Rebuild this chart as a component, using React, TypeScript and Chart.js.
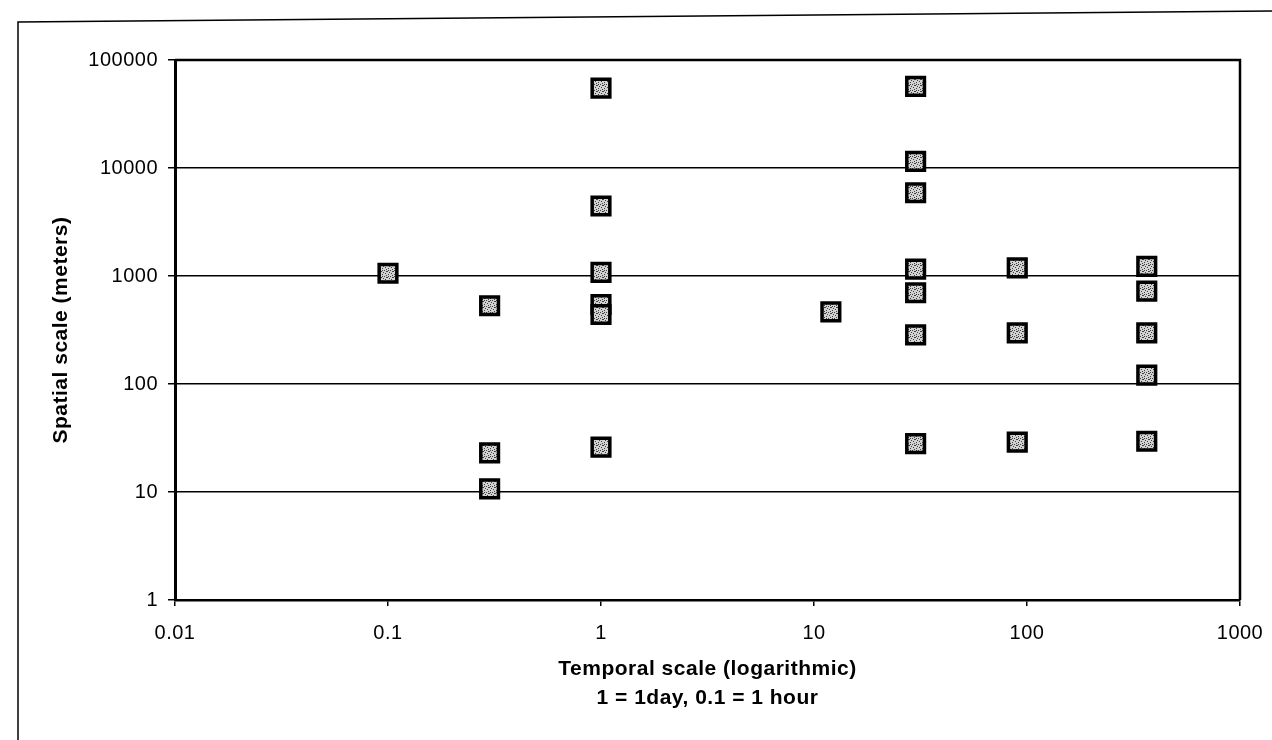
import React, { useEffect, useRef } from "react";
import { Chart, registerables } from "chart.js";

Chart.register(...registerables);

// Temporal scale (days) and spatial scale (meters) of each study
const temporalScale = [
  0.1,
  0.3, 0.3, 0.3,
  1, 1, 1, 1, 1, 1,
  12,
  30, 30, 30, 30, 30, 30, 30,
  90, 90, 90,
  365, 365, 365, 365, 365,
];
const spatialScale = [
  1060,
  530, 23, 10.7,
  55000, 4450, 1080, 545, 440, 26,
  465,
  57000, 11500, 5900, 1160, 700, 285, 28,
  1190, 297, 29,
  1230, 725, 297, 121, 29.5,
];

const xTicks = [0.01, 0.1, 1, 10, 100, 1000];
const xTickLabels = ["0.01", "0.1", "1", "10", "100", "1000"];
const yTicks = [1, 10, 100, 1000, 10000, 100000];
const yTickLabels = ["1", "10", "100", "1000", "10000", "100000"];

const xTitle = ["Temporal scale (logarithmic)", "1 = 1day, 0.1 = 1 hour"];
const yTitle = "Spatial scale (meters)";

const FONT = "'Liberation Sans', Arial, Helvetica, sans-serif";

function makePattern(): CanvasPattern | string {
  const c = document.createElement("canvas");
  c.width = 6;
  c.height = 6;
  const g = c.getContext("2d");
  if (!g) return "#bdbdbd";
  g.fillStyle = "#d2d2d2";
  g.fillRect(0, 0, 6, 6);
  g.fillStyle = "#404040";
  const dots = [
    [0, 0], [3, 1], [1, 3], [4, 4], [2, 5], [5, 2], [2, 1], [4, 0],
  ];
  dots.forEach(([x, y]) => g.fillRect(x, y, 1, 1));
  const p = g.createPattern(c, "repeat");
  return p || "#bdbdbd";
}

const spacingPlugin = {
  id: "letterSpacing",
  beforeLayout(chart: any) {
    (chart.ctx as any).letterSpacing = "0.5px";
  },
  beforeDraw(chart: any) {
    (chart.ctx as any).letterSpacing = "0.5px";
  },
};

const framePlugin = {
  id: "frame",
  beforeDraw(chart: any) {
    const ctx = chart.ctx;
    ctx.save();
    ctx.strokeStyle = "#000";
    ctx.lineWidth = 1.5;
    ctx.beginPath();
    ctx.moveTo(18, 740);
    ctx.lineTo(18, 22);
    ctx.lineTo(1272, 11);
    ctx.stroke();
    ctx.restore();
  },
  afterDraw(chart: any) {
    const { left, top, right, bottom } = chart.chartArea;
    const ctx = chart.ctx;
    ctx.save();
    ctx.strokeStyle = "#000";
    ctx.lineWidth = 2.5;
    ctx.beginPath();
    ctx.moveTo(left, top);
    ctx.lineTo(right, top);
    ctx.lineTo(right, bottom);
    ctx.stroke();
    ctx.restore();
  },
};

export default function App() {
  const ref = useRef<HTMLCanvasElement | null>(null);

  useEffect(() => {
    if (!ref.current) return;
    const pattern = makePattern();
    const data = temporalScale.map((x, i) => ({ x, y: spatialScale[i] }));
    const chart = new Chart(ref.current, {
      type: "scatter",
      data: {
        datasets: [
          {
            data,
            pointStyle: "rect",
            pointRadius: 12.5,
            pointHoverRadius: 12.5,
            pointBorderWidth: 3.5,
            pointBorderColor: "#000",
            pointBackgroundColor: pattern as any,
          },
        ],
      },
      options: {
        animation: false,
        responsive: false,
        maintainAspectRatio: false,
        layout: { padding: { left: 20, top: 60, right: 32, bottom: 0 } },
        plugins: { legend: { display: false }, tooltip: { enabled: false } },
        scales: {
          x: {
            type: "logarithmic",
            min: 0.01,
            max: 1000,
            afterBuildTicks: (scale: any) => {
              scale.ticks = xTicks.map((v) => ({ value: v, major: true }));
            },
            afterFit: (scale: any) => {
              scale.height = 140;
              scale.paddingLeft = 0;
              scale.paddingRight = 0;
            },
            ticks: {
              color: "#000",
              padding: 15,
              autoSkip: false,
              maxRotation: 0,
              font: { family: FONT, size: 20 },
              callback: (v: any) => {
                const i = xTicks.indexOf(Number(v));
                return i >= 0 ? xTickLabels[i] : "";
              },
            },
            grid: {
              drawOnChartArea: false,
              drawTicks: true,
              tickLength: 6,
              color: "#000",
              lineWidth: 1.5,
            },
            border: { display: true, color: "#000", width: 2.5 },
            title: {
              display: true,
              text: xTitle,
              color: "#000",
              font: { family: FONT, size: 21, weight: "bold", lineHeight: 1.38 },
              padding: { top: 0, bottom: 27.5 },
            },
          },
          y: {
            type: "logarithmic",
            min: 1,
            max: 100000,
            afterBuildTicks: (scale: any) => {
              scale.ticks = yTicks.map((v) => ({ value: v, major: true }));
            },
            afterFit: (scale: any) => {
              scale.width = 155;
              scale.paddingTop = 0;
              scale.paddingBottom = 0;
            },
            ticks: {
              color: "#000",
              padding: 10,
              autoSkip: false,
              font: { family: FONT, size: 20 },
              callback: (v: any) => {
                const i = yTicks.indexOf(Number(v));
                return i >= 0 ? yTickLabels[i] : "";
              },
            },
            grid: {
              drawOnChartArea: true,
              drawTicks: true,
              tickLength: 7,
              color: "#000",
              lineWidth: 1.5,
            },
            border: { display: true, color: "#000", width: 3 },
            title: {
              display: true,
              text: yTitle,
              color: "#000",
              font: { family: FONT, size: 21, weight: "bold", lineHeight: 1.2 },
              padding: { top: 29, bottom: 0 },
            },
          },
        },
      },
      plugins: [spacingPlugin, framePlugin],
    });
    return () => chart.destroy();
  }, []);

  return (
    <div style={{ position: "absolute", left: 0, top: 0, width: 1272, height: 740, background: "#fff" }}>
      <canvas ref={ref} width={1272} height={740} style={{ display: "block" }} />
    </div>
  );
}
